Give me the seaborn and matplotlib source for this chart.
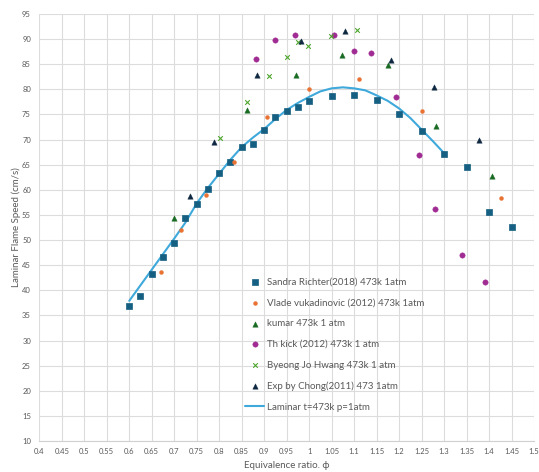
import matplotlib
matplotlib.use("Agg")
import matplotlib.pyplot as plt
import seaborn as sns
import pandas as pd
import numpy as np

# ---------------- data ----------------
sandra_x = [0.6, 0.625, 0.65, 0.675, 0.7, 0.725, 0.75, 0.775, 0.8, 0.825, 0.85, 0.875, 0.9,
            0.925, 0.95, 0.975, 1.0, 1.05, 1.1, 1.15, 1.2, 1.25, 1.3, 1.35, 1.4, 1.45]
sandra_y = [36.8, 38.9, 43.2, 46.6, 49.5, 54.3, 57.2, 60.2, 63.3, 65.6, 68.5, 69.2, 72.0,
            74.4, 75.6, 76.4, 77.6, 78.7, 78.9, 77.8, 75.1, 71.7, 67.1, 64.6, 55.5, 52.5]

vlade_x = [0.67, 0.715, 0.77, 0.833, 0.907, 1.0, 1.11, 1.25, 1.427]
vlade_y = [43.7, 52.1, 58.9, 65.6, 74.5, 80.0, 82.1, 75.7, 58.4]

kumar_x = [0.7, 0.861, 0.97, 1.073, 1.176, 1.281, 1.407]
kumar_y = [54.4, 75.8, 82.9, 86.9, 84.8, 72.8, 62.8]

kick_x = [0.881, 0.924, 0.968, 1.055, 1.099, 1.138, 1.194, 1.245, 1.279, 1.34, 1.39]
kick_y = [86.1, 89.8, 90.8, 90.8, 87.6, 87.2, 78.4, 66.9, 56.2, 47.1, 41.7]

byeong_x = [0.802, 0.861, 0.911, 0.95, 0.976, 0.997, 1.048, 1.107]
byeong_y = [70.4, 77.5, 82.7, 86.4, 89.4, 88.6, 90.6, 91.8]

chong_x = [0.736, 0.788, 0.885, 0.983, 1.08, 1.183, 1.278, 1.377]
chong_y = [58.8, 69.6, 82.9, 89.6, 91.6, 85.8, 80.4, 69.9]

laminar_x = [0.6, 0.625, 0.65, 0.675, 0.7, 0.725, 0.75, 0.775, 0.8, 0.825, 0.85, 0.875, 0.9,
             0.925, 0.95, 0.975, 1.0, 1.025, 1.05, 1.075, 1.1, 1.125, 1.15, 1.175, 1.2,
             1.225, 1.25, 1.275, 1.3]
laminar_y = [37.9, 41.0, 44.1, 47.2, 50.3, 53.5, 57.3, 60.4, 63.2, 66.0, 68.5, 70.4, 72.1,
             74.1, 75.9, 77.3, 78.5, 79.6, 80.2, 80.4, 80.2, 79.8, 78.8, 77.7, 76.2,
             74.3, 72.0, 69.7, 67.3]

labels = ["Sandra Richter(2018) 473k 1atm",
          "Vlade vukadinovic (2012) 473k 1atm",
          "kumar 473k 1 atm",
          "Th kick (2012) 473k 1 atm",
          "Byeong Jo Hwang 473k 1 atm",
          "Exp by Chong(2011) 473 1atm",
          "Laminar t=473k p=1atm"]

x_ticks = [0.4, 0.45, 0.5, 0.55, 0.6, 0.65, 0.7, 0.75, 0.8, 0.85, 0.9, 0.95, 1.0,
           1.05, 1.1, 1.15, 1.2, 1.25, 1.3, 1.35, 1.4, 1.45, 1.5]
x_ticklabels = ["0.4", "0.45", "0.5", "0.55", "0.6", "0.65", "0.7", "0.75", "0.8", "0.85",
                "0.9", "0.95", "1", "1.05", "1.1", "1.15", "1.2", "1.25", "1.3", "1.35",
                "1.4", "1.45", "1.5"]
y_ticks = [10, 15, 20, 25, 30, 35, 40, 45, 50, 55, 60, 65, 70, 75, 80, 85, 90, 95]

# ---------------- style ----------------
sns.set_theme(style="whitegrid")
plt.rcParams['font.family'] = ['Lato', 'DejaVu Sans']
text_col = "#595959"

fig = plt.figure(figsize=(5.39, 4.72), dpi=100)
ax = fig.add_axes([39.3 / 539, 1 - 441 / 472, (534 - 39.3) / 539, (441 - 14) / 472])

series = [
    (sandra_x, sandra_y, labels[0], "s", "#156082", 19, 0.5),
    (vlade_x, vlade_y, labels[1], "o", "#E97132", 8, 0.3),
    (kumar_x, kumar_y, labels[2], "^", "#196B24", 15, 0.3),
    (kick_x, kick_y, labels[3], "o", "#A02B93", 15, 0.3),
    (byeong_x, byeong_y, labels[4], "x", "#4EA72E", 11, 0.8),
    (chong_x, chong_y, labels[5], "^", "#0E2841", 15, 0.3),
]
for xs, ys, lab, mk, col, s, lw in series:
    df = pd.DataFrame({"phi": xs, "S": ys})
    sns.scatterplot(data=df, x="phi", y="S", ax=ax, marker=mk, color=col, s=s,
                    edgecolor=col if mk != "x" else None, linewidth=lw, label=lab, zorder=3)

df_l = pd.DataFrame({"phi": laminar_x, "S": laminar_y})
sns.lineplot(data=df_l, x="phi", y="S", ax=ax, color="#3FA9DB", linewidth=1.5,
             label=labels[6], zorder=2, sort=False)

ax.set_xlim(0.4, 1.5)
ax.set_ylim(10, 95)
ax.set_xticks(x_ticks)
ax.set_xticklabels(x_ticklabels)
ax.set_yticks(y_ticks)
ax.grid(True, color="#DCDCDC", linewidth=0.8)
ax.set_axisbelow(True)
for side in ["top", "right", "left"]:
    ax.spines[side].set_visible(False)
ax.spines["bottom"].set_color("#D0D0D0")
ax.spines["bottom"].set_linewidth(0.8)
ax.tick_params(axis="both", labelsize=5.5, colors=text_col, length=0)
ax.tick_params(axis="x", pad=5)
ax.tick_params(axis="y", pad=6)

ax.set_xlabel("Equivalence ratio. ϕ", fontsize=7, color=text_col, labelpad=4)
ax.set_ylabel("Laminar Flame Speed (cm/s)", fontsize=7, color=text_col, labelpad=1)

leg = ax.legend(loc="upper left", bbox_to_anchor=(245 / 539, 1 - 278 / 472),
                bbox_transform=fig.transFigure, frameon=False, fontsize=7,
                borderpad=0, borderaxespad=0, handlelength=2.0, handletextpad=0.3,
                labelspacing=1.2)
for t in leg.get_texts():
    t.set_color(text_col)

fig.savefig("out.png", dpi=100, facecolor="white")
